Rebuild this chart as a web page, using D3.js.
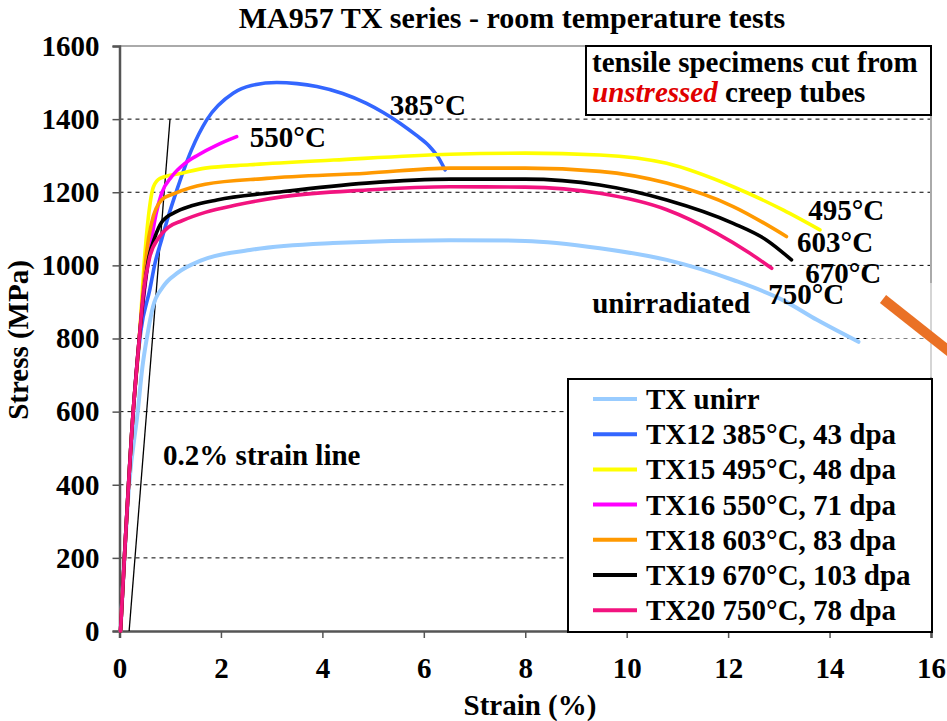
<!DOCTYPE html>
<html>
<head>
<meta charset="utf-8">
<script src="https://cdn.jsdelivr.net/npm/d3@7"></script>
<style>
  body { margin: 0; background: #fff; }
  svg { display: block; }
  text { font-family: "Liberation Serif", "Times New Roman", serif; font-weight: bold; fill: #000; }
</style>
</head>
<body>
<svg id="chart" width="947" height="721"></svg>
<script>
// Axis ticks
const xTicks = [0, 2, 4, 6, 8, 10, 12, 14, 16];
const yTicks = [0, 200, 400, 600, 800, 1000, 1200, 1400, 1600];

// Series names (legend order)
const seriesNames = [
  "TX unirr",
  "TX12 385°C, 43 dpa",
  "TX15 495°C, 48 dpa",
  "TX16 550°C, 71 dpa",
  "TX18 603°C, 83 dpa",
  "TX19 670°C, 103 dpa",
  "TX20 750°C, 78 dpa"
];
const seriesColors = ["#99ccff", "#3366ff", "#ffff00", "#ff00ff", "#ff9900", "#000000", "#f2137f"];

// Stress-strain curves: [strain %, stress MPa]
const txUnirr = [[0.02,0],[0.19,400],[0.36,600],[0.45,720],[0.55,810],[0.66,887],[0.85,940],[1.15,980],[1.6,1013],[2.57,1042],[4.21,1061],[6.52,1069],[8,1067],[9.47,1047],[10.79,1015],[12.1,960],[13.08,905],[13.75,851],[14.57,791]];
const tx12 = [[0.02,0],[0.27,600],[0.42,820],[0.6,935],[0.7,1006],[0.83,1070],[0.96,1133],[1.13,1206],[1.42,1316],[1.72,1398],[2.24,1471],[2.6,1492],[3.1,1500],[3.5,1497],[3.89,1489],[4.4,1470],[4.87,1443],[5.2,1418],[5.53,1389],[5.85,1356],[6.1,1327],[6.3,1292],[6.42,1261]];
const tx15 = [[0.02,0],[0.27,600],[0.39,800],[0.5,1030],[0.57,1133],[0.67,1215],[0.8,1238],[1.23,1252],[1.69,1266],[2.57,1275],[4.22,1288],[6.52,1304],[8,1307],[9.47,1302],[10.79,1279],[12.1,1215],[13.09,1151],[13.81,1097]];
const tx16 = [[0.02,0],[0.27,600],[0.39,800],[0.5,940],[0.62,1060],[0.72,1140],[0.83,1197],[1.03,1243],[1.29,1279],[1.55,1302],[1.92,1329],[2.31,1352]];
const tx18 = [[0.02,0],[0.27,600],[0.39,800],[0.47,940],[0.54,1042],[0.63,1115],[0.83,1179],[1.09,1197],[1.69,1222],[2.9,1238],[4.87,1252],[6.52,1266],[8,1266],[9.47,1257],[10.79,1225],[12.1,1161],[13.15,1079]];
const tx19 = [[0.02,0],[0.27,600],[0.39,800],[0.48,925],[0.57,1015],[0.7,1078],[0.83,1118],[1.09,1145],[1.42,1163],[1.92,1179],[3.23,1202],[4.87,1225],[6.52,1236],[8,1236],[9.47,1220],[10.79,1179],[12.1,1115],[12.76,1069],[13.25,1015]];
const tx20 = [[0.02,0],[0.27,600],[0.39,800],[0.47,924],[0.6,1025],[0.77,1075],[0.96,1104],[1.23,1122],[1.69,1145],[2.3,1165],[3.23,1188],[4.87,1206],[6.52,1215],[8,1214],[9.47,1197],[10.79,1152],[11.77,1088],[12.43,1033],[12.86,992]];
const seriesData = [txUnirr, tx12, tx15, tx16, tx18, tx19, tx20];

// 0.2% offset line
const offsetLine = [[0.19,0],[0.996,1400]];

// Curve labels, anchored at text baseline start
const curveLabels = [
  { text: "385°C", strain: 5.33, stress: 1411 },
  { text: "550°C", strain: 2.57, stress: 1324 },
  { text: "495°C", strain: 13.58, stress: 1124 },
  { text: "603°C", strain: 13.36, stress: 1036 },
  { text: "670°C", strain: 13.52, stress: 953 },
  { text: "750°C", strain: 12.79, stress: 894 },
  { text: "unirradiated", strain: 9.32, stress: 870 },
  { text: "0.2% strain line", strain: 0.86, stress: 454 }
];

const svg = d3.select("#chart");
const m = { left: 119.5, right: 931, top: 46, bottom: 631 };

const x = d3.scaleLinear().domain([0, 16]).range([m.left, m.right]);
const y = d3.scaleLinear().domain([0, 1600]).range([m.bottom, m.top]);

// Title
svg.append("text")
  .attr("x", 512).attr("y", 28)
  .attr("text-anchor", "middle")
  .style("font-size", "30px")
  .text("MA957 TX series - room temperature tests");

// Dashed grid lines
svg.append("g").selectAll("line")
  .data(yTicks.filter(d => d > 0 && d < 1600))
  .join("line")
  .attr("x1", x(0)).attr("x2", x(16))
  .attr("y1", d => y(d)).attr("y2", d => y(d))
  .attr("stroke", "#000").attr("stroke-width", 1)
  .attr("stroke-dasharray", "4,4");

// Top and right frame
svg.append("line").attr("x1", x(0)).attr("x2", x(16)).attr("y1", y(1600)).attr("y2", y(1600))
  .attr("stroke", "#aaa").attr("stroke-width", 2);
svg.append("line").attr("x1", x(16)).attr("x2", x(16)).attr("y1", y(1600)).attr("y2", y(0))
  .attr("stroke", "#aaa").attr("stroke-width", 2);

// Axes
const yAxis = svg.append("g").attr("transform", `translate(${m.left},0)`)
  .call(d3.axisLeft(y).tickValues(yTicks).tickSize(7).tickPadding(13).tickFormat(d3.format("d")));
const xAxis = svg.append("g").attr("transform", `translate(0,${m.bottom})`)
  .call(d3.axisBottom(x).tickValues(xTicks).tickSize(7).tickFormat(d3.format("d")));
[yAxis, xAxis].forEach(a => {
  a.select(".domain").attr("stroke", "#555").attr("stroke-width", 2.5);
  a.selectAll(".tick line").attr("stroke", "#555").attr("stroke-width", 1.5);
  a.selectAll("text").style("font-size", "29px").style("font-family", "Liberation Serif, serif").style("font-weight", "bold").attr("fill", "#000");
});
xAxis.selectAll("text").attr("dy", null).attr("y", 47);

// Axis titles
svg.append("text")
  .attr("x", 530).attr("y", 715)
  .attr("text-anchor", "middle")
  .style("font-size", "29px")
  .text("Strain (%)");
svg.append("text")
  .attr("transform", "translate(28,340) rotate(-90)")
  .attr("text-anchor", "middle")
  .style("font-size", "29px")
  .text("Stress (MPa)");

// 0.2% offset line
svg.append("path")
  .datum(offsetLine)
  .attr("d", d3.line().x(d => x(d[0])).y(d => y(d[1])))
  .attr("fill", "none").attr("stroke", "#000").attr("stroke-width", 1.3);

// Curves
const line = d3.line().x(d => x(d[0])).y(d => y(d[1])).curve(d3.curveMonotoneX);
svg.append("g").selectAll("path")
  .data(seriesData)
  .join("path")
  .attr("d", line)
  .attr("fill", "none")
  .attr("stroke", (d, i) => seriesColors[i])
  .attr("stroke-width", (d, i) => i === 0 ? 4 : 3.6)
  .attr("stroke-linecap", "round")
  .attr("stroke-linejoin", "round");

// Curve labels
svg.append("g").selectAll("text")
  .data(curveLabels)
  .join("text")
  .attr("x", d => x(d.strain))
  .attr("y", d => y(d.stress))
  .style("font-size", "29px")
  .text(d => d.text);

// Hazy patch at right edge
svg.append("rect")
  .attr("x", 866).attr("y", 283).attr("width", 81).attr("height", 94)
  .attr("fill", "#fff").attr("opacity", 0.5);

// Orange pointer
svg.append("line")
  .attr("x1", 883).attr("y1", 299).attr("x2", 960).attr("y2", 360)
  .attr("stroke", "#ea7125").attr("stroke-width", 10);

// Note box
const note = svg.append("g");
note.append("rect")
  .attr("x", 586).attr("y", 46).attr("width", 345).attr("height", 69)
  .attr("fill", "#fff").attr("stroke", "#000").attr("stroke-width", 2);
note.append("text").attr("x", 592).attr("y", 72).style("font-size", "29px")
  .text("tensile specimens cut from");
const l2 = note.append("text").attr("x", 592).attr("y", 102).style("font-size", "29px");
l2.append("tspan").attr("fill", "#e00000").style("font-style", "italic").text("unstressed");
l2.append("tspan").text(" creep tubes");

// Legend
const legend = svg.append("g");
legend.append("rect")
  .attr("x", 568).attr("y", 379).attr("width", 364).attr("height", 253)
  .attr("fill", "#fff").attr("stroke", "#000").attr("stroke-width", 2);
const rows = legend.selectAll("g.row")
  .data(seriesNames)
  .join("g").attr("class", "row")
  .attr("transform", (d, i) => `translate(0,${399 + i * 35.2})`);
rows.append("line")
  .attr("x1", 593).attr("x2", 637).attr("y1", 0).attr("y2", 0)
  .attr("stroke", (d, i) => seriesColors[i]).attr("stroke-width", 4);
rows.append("text")
  .attr("x", 646).attr("y", 10)
  .style("font-size", "29px")
  .text(d => d);
</script>
</body>
</html>
